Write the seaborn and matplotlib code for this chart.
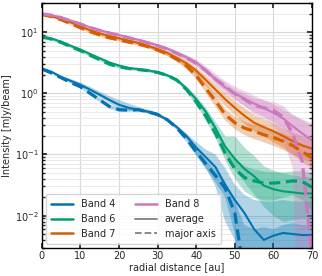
import numpy as np
import pandas as pd
import matplotlib
matplotlib.use("Agg")
import matplotlib.pyplot as plt
from matplotlib.lines import Line2D
import seaborn as sns

# radial grid [au]
radius = [0, 2.5, 5, 7.5, 10, 12.5, 15, 17.5, 20, 22.5, 25, 27.5, 30, 32.5, 35,
          37.5, 40, 42.5, 45, 47.5, 50, 52.5, 55, 57.5, 60, 62.5, 65, 67.5, 70]

# Band 4
b4_avg = [2.55, 2.25, 1.85, 1.6, 1.38, 1.15, 0.95, 0.78, 0.65, 0.58, 0.54, 0.50, 0.45, 0.37, 0.28,
          0.2, 0.13, 0.09, 0.062, 0.032, 0.018, 0.011, 0.006, 0.0040, 0.0047, 0.0052, 0.0050, 0.0048, 0.0048]
b4_avg_lo = [2.5, 2.2, 1.78, 1.52, 1.3, 1.06, 0.86, 0.69, 0.57, 0.52, 0.5, 0.47, 0.42, 0.35, 0.26,
             0.18, 0.1, 0.06, 0.03, 0.008, 0.004, 0.0, 0.0, 0.0, 0.0, 0.0, 0.0, 0.0, 0.0]
b4_avg_hi = [2.62, 2.34, 1.95, 1.72, 1.5, 1.28, 1.07, 0.9, 0.78, 0.68, 0.6, 0.54, 0.48, 0.39, 0.3,
             0.22, 0.16, 0.12, 0.1, 0.06, 0.032, 0.022, 0.018, 0.017, 0.017, 0.018, 0.017, 0.017, 0.017]
b4_maj = [2.5, 2.15, 1.8, 1.5, 1.28, 1.0, 0.78, 0.61, 0.54, 0.53, 0.54, 0.50, 0.45, 0.37, 0.27,
          0.18, 0.11, 0.07, 0.045, 0.028, 0.011, 0.001, 0.0005, 0.0005, 0.0005, 0.0005, 0.0005, 0.0005, 0.0005]
b4_maj_lo = [2.45, 2.1, 1.74, 1.44, 1.22, 0.94, 0.72, 0.56, 0.5, 0.5, 0.51, 0.47, 0.42, 0.35, 0.25,
             0.16, 0.095, 0.058, 0.035, 0.02, 0.005, 0.0, 0.0, 0.0, 0.0, 0.0, 0.0, 0.0, 0.0]
b4_maj_hi = [2.56, 2.2, 1.86, 1.56, 1.34, 1.06, 0.84, 0.66, 0.58, 0.56, 0.57, 0.53, 0.48, 0.39, 0.29,
             0.2, 0.125, 0.082, 0.055, 0.036, 0.017, 0.007, 0.006, 0.0065, 0.006, 0.007, 0.0075, 0.007, 0.007]

# Band 6
b6_avg = [8.5, 7.9, 7.0, 6.0, 5.2, 4.4, 3.75, 3.2, 2.85, 2.6, 2.5, 2.38, 2.22, 1.98, 1.66,
          1.2, 0.8, 0.5, 0.27, 0.135, 0.085, 0.058, 0.044, 0.031, 0.027, 0.025, 0.024, 0.023, 0.023]
b6_avg_lo = [8.2, 7.6, 6.7, 5.75, 5.0, 4.2, 3.58, 3.05, 2.72, 2.5, 2.4, 2.28, 2.12, 1.88, 1.56,
             1.1, 0.72, 0.44, 0.22, 0.1, 0.055, 0.035, 0.022, 0.014, 0.01, 0.008, 0.0085, 0.009, 0.009]
b6_avg_hi = [8.8, 8.2, 7.3, 6.3, 5.45, 4.6, 3.95, 3.38, 3.0, 2.72, 2.6, 2.48, 2.32, 2.08, 1.76,
             1.3, 0.9, 0.58, 0.34, 0.2, 0.2, 0.13, 0.095, 0.065, 0.055, 0.05, 0.046, 0.044, 0.043]
b6_maj = [8.4, 7.7, 6.8, 5.8, 5.0, 4.2, 3.55, 3.0, 2.72, 2.55, 2.45, 2.35, 2.2, 1.97, 1.64,
          1.15, 0.72, 0.42, 0.22, 0.105, 0.058, 0.042, 0.037, 0.034, 0.034, 0.035, 0.037, 0.036, 0.029]
b6_maj_lo = [8.1, 7.4, 6.5, 5.55, 4.8, 4.0, 3.38, 2.85, 2.6, 2.45, 2.35, 2.25, 2.1, 1.87, 1.54,
             1.05, 0.64, 0.36, 0.18, 0.08, 0.04, 0.025, 0.02, 0.018, 0.018, 0.02, 0.022, 0.018, 0.012]
b6_maj_hi = [8.7, 8.0, 7.1, 6.05, 5.2, 4.4, 3.72, 3.15, 2.85, 2.65, 2.55, 2.45, 2.3, 2.07, 1.74,
             1.25, 0.8, 0.48, 0.27, 0.14, 0.085, 0.065, 0.058, 0.054, 0.052, 0.052, 0.054, 0.055, 0.05]

# Band 7
b7_avg = [19.5, 18.2, 16.5, 14.5, 12.5, 10.8, 9.6, 8.7, 8.0, 7.3, 6.7, 6.0, 5.3, 4.6, 3.8,
          3.1, 2.35, 1.65, 1.15, 0.8, 0.58, 0.43, 0.33, 0.28, 0.24, 0.2, 0.165, 0.14, 0.125]
b7_avg_lo = [19.0, 17.6, 15.9, 13.9, 12.0, 10.3, 9.1, 8.2, 7.5, 6.9, 6.3, 5.6, 4.9, 4.2, 3.4,
             2.7, 2.0, 1.35, 0.92, 0.62, 0.44, 0.32, 0.24, 0.2, 0.16, 0.13, 0.1, 0.085, 0.075]
b7_avg_hi = [20.0, 18.8, 17.1, 15.1, 13.0, 11.3, 10.1, 9.2, 8.5, 7.7, 7.1, 6.4, 5.7, 5.0, 4.2,
             3.5, 2.7, 1.95, 1.4, 1.0, 0.75, 0.58, 0.45, 0.38, 0.32, 0.27, 0.23, 0.2, 0.18]
b7_maj = [19.5, 18.0, 16.0, 13.8, 11.8, 10.2, 9.0, 8.1, 7.5, 6.9, 6.4, 5.8, 5.1, 4.4, 3.6,
          2.8, 1.95, 1.2, 0.75, 0.45, 0.33, 0.27, 0.24, 0.21, 0.19, 0.165, 0.14, 0.11, 0.088]
b7_maj_lo = [19.0, 17.5, 15.5, 13.3, 11.4, 9.8, 8.6, 7.7, 7.1, 6.6, 6.1, 5.5, 4.8, 4.1, 3.3,
             2.5, 1.7, 1.0, 0.6, 0.36, 0.26, 0.21, 0.18, 0.16, 0.14, 0.12, 0.1, 0.075, 0.06]
b7_maj_hi = [20.0, 18.5, 16.5, 14.3, 12.2, 10.6, 9.4, 8.5, 7.9, 7.2, 6.7, 6.1, 5.4, 4.7, 3.9,
             3.1, 2.25, 1.45, 0.92, 0.56, 0.42, 0.35, 0.31, 0.28, 0.25, 0.22, 0.19, 0.15, 0.12]

# Band 8
b8_avg = [20.0, 19.0, 17.5, 15.5, 13.8, 12.0, 10.8, 9.8, 9.0, 8.2, 7.5, 6.8, 6.1, 5.4, 4.6,
          3.9, 3.2, 2.4, 1.7, 1.25, 1.0, 0.82, 0.68, 0.58, 0.48, 0.39, 0.29, 0.22, 0.17]
b8_avg_lo = [19.5, 18.4, 16.9, 15.0, 13.3, 11.6, 10.4, 9.4, 8.6, 7.8, 7.1, 6.4, 5.7, 5.0, 4.2,
             3.5, 2.8, 2.05, 1.4, 1.0, 0.78, 0.62, 0.5, 0.42, 0.34, 0.27, 0.2, 0.15, 0.11]
b8_avg_hi = [20.5, 19.6, 18.1, 16.0, 14.3, 12.5, 11.3, 10.2, 9.4, 8.6, 7.9, 7.2, 6.5, 5.8, 5.0,
             4.3, 3.6, 2.8, 2.1, 1.6, 1.3, 1.1, 0.92, 0.78, 0.66, 0.55, 0.45, 0.38, 0.33]
b8_maj = [20.0, 19.0, 17.3, 15.3, 13.6, 11.9, 10.7, 9.7, 8.9, 8.1, 7.4, 6.7, 6.0, 5.3, 4.5,
          3.8, 3.1, 2.35, 1.7, 1.3, 0.98, 0.8, 0.63, 0.58, 0.53, 0.41, 0.22, 0.075, 0.002]
b8_maj_lo = [19.5, 18.5, 16.8, 14.8, 13.2, 11.5, 10.3, 9.3, 8.5, 7.8, 7.1, 6.4, 5.7, 5.0, 4.2,
             3.5, 2.8, 2.1, 1.5, 1.1, 0.8, 0.62, 0.45, 0.38, 0.3, 0.18, 0.06, 0.0, 0.0]
b8_maj_hi = [20.5, 19.5, 17.8, 15.8, 14.0, 12.3, 11.1, 10.1, 9.3, 8.4, 7.7, 7.0, 6.3, 5.6, 4.8,
             4.1, 3.4, 2.6, 1.9, 1.5, 1.15, 0.98, 0.82, 0.78, 0.72, 0.62, 0.45, 0.36, 0.3]

bands = ["Band 4", "Band 6", "Band 7", "Band 8"]
colors = ["#0173b2", "#029e73", "#d55e00", "#cc78bc"]
profiles = {
    "Band 4": (b4_avg, b4_avg_lo, b4_avg_hi, b4_maj, b4_maj_lo, b4_maj_hi),
    "Band 6": (b6_avg, b6_avg_lo, b6_avg_hi, b6_maj, b6_maj_lo, b6_maj_hi),
    "Band 7": (b7_avg, b7_avg_lo, b7_avg_hi, b7_maj, b7_maj_lo, b7_maj_hi),
    "Band 8": (b8_avg, b8_avg_lo, b8_avg_hi, b8_maj, b8_maj_lo, b8_maj_hi),
}

sns.set_theme(style="ticks")
plt.rcParams["font.family"] = ["DejaVu Sans"]
plt.rcParams["font.size"] = 7

fig, ax = plt.subplots(figsize=(3.22, 2.76), dpi=100)
fig.subplots_adjust(left=0.13, right=0.969, bottom=0.103, top=0.989)

floor = 1e-6
for band, color in zip(bands, colors):
    avg, avg_lo, avg_hi, maj, maj_lo, maj_hi = profiles[band]
    ax.fill_between(radius, np.clip(avg_lo, floor, None), avg_hi, color=color, alpha=0.3, lw=0)
    ax.fill_between(radius, np.clip(maj_lo, floor, None), maj_hi, color=color, alpha=0.3, lw=0)
    df = pd.DataFrame({"r": radius, "avg": avg, "maj": maj})
    sns.lineplot(data=df, x="r", y="avg", color=color, lw=1.5, ax=ax)
    sns.lineplot(data=df, x="r", y="maj", color=color, lw=2.3, ax=ax,
                 linestyle=(0, (3.5, 1.8)))

ax.set_yscale("log")
ax.set_xlim(0, 70)
ax.set_ylim(3e-3, 30)
ax.set_xticks([0, 10, 20, 30, 40, 50, 60, 70])
ax.set_xlabel("radial distance [au]", fontsize=7, labelpad=1)
ax.set_ylabel("Intensity [mJy/beam]", fontsize=7, labelpad=2)
ax.grid(which="major", color="#d8d8d8", lw=0.8)
ax.grid(which="minor", axis="y", color="#e6e6e6", lw=0.6)
ax.tick_params(which="major", length=3.5)
ax.tick_params(which="minor", length=2)
ax.tick_params(which="both", direction="in", top=True, right=True, labelsize=7, pad=2.5)
for s in ax.spines.values():
    s.set_linewidth(1.0)
    s.set_color("black")

handles = [Line2D([], [], color=c, lw=1.8) for c in colors[:3]]
handles += [Line2D([], [], color=colors[3], lw=1.8),
            Line2D([], [], color="gray", lw=1.3),
            Line2D([], [], color="gray", lw=1.3, ls="--")]
labels = ["Band 4", "Band 6", "Band 7", "Band 8", "average", "major axis"]
ax.legend(handles, labels, ncol=2, loc="lower left", fontsize=7, handlelength=2.3,
          columnspacing=2.0, labelspacing=0.5, borderpad=0.5, handletextpad=0.8,
          framealpha=0.8, borderaxespad=0.4)

fig.savefig("out.png", dpi=100)
